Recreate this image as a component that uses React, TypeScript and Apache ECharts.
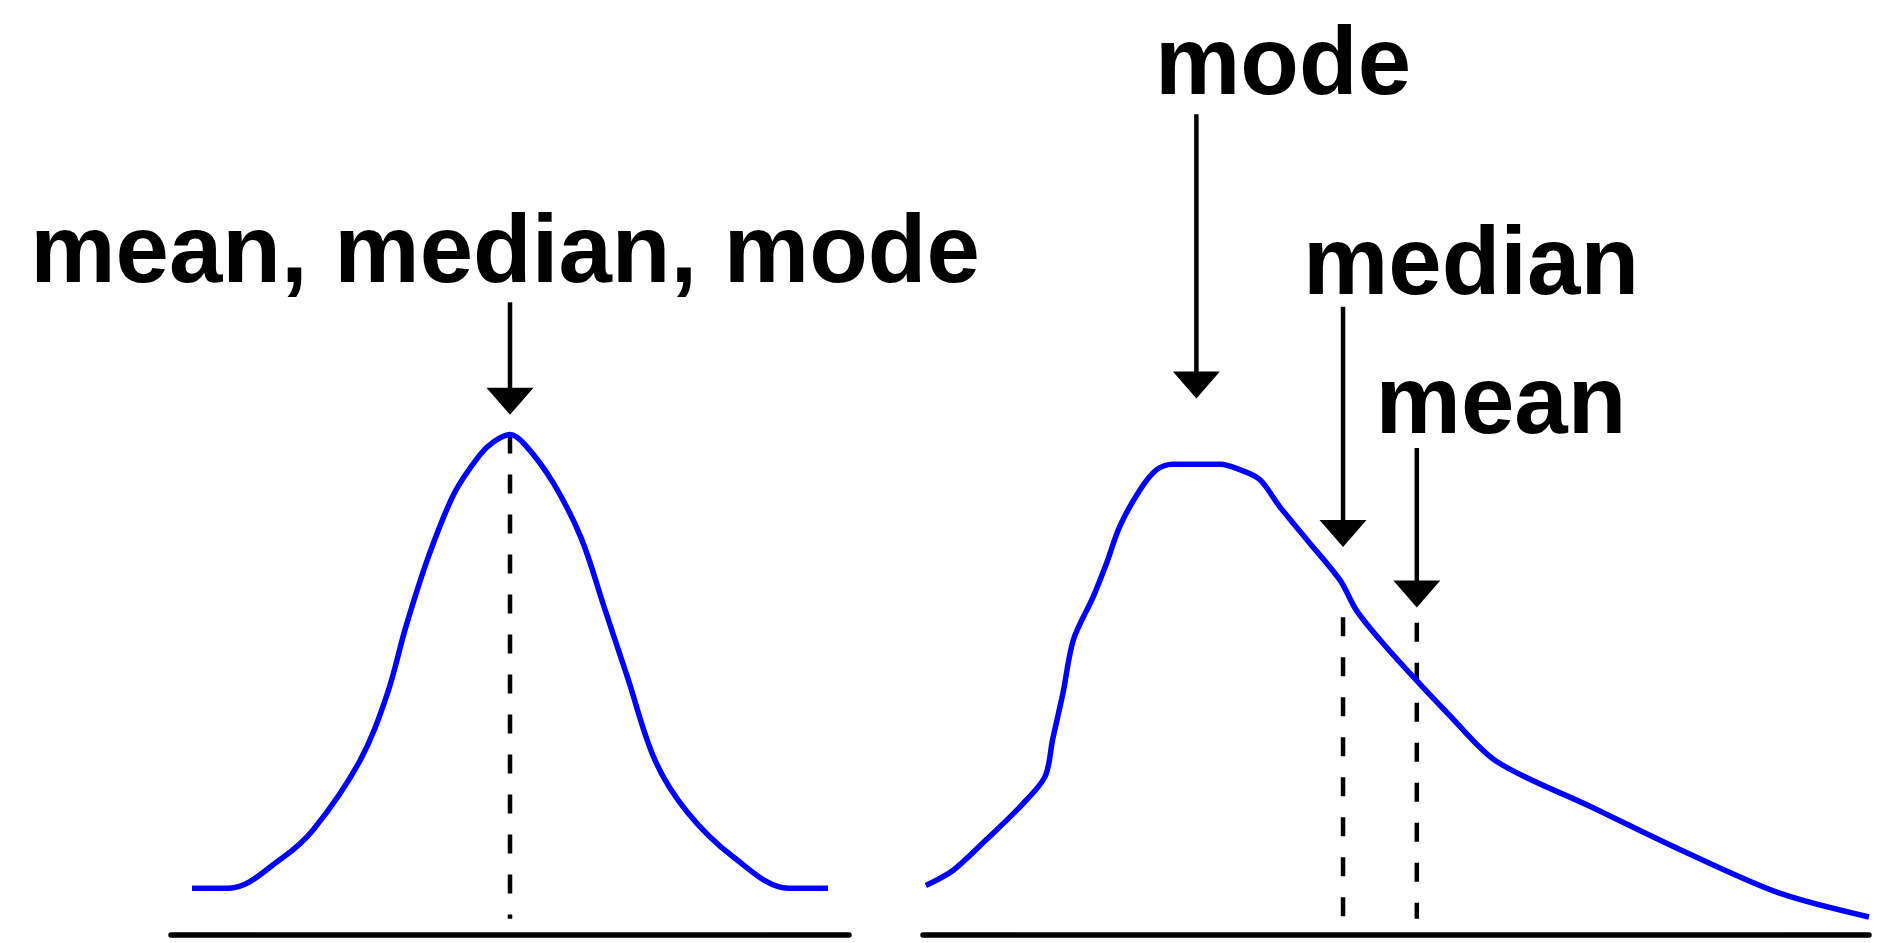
import React, { useEffect, useRef } from "react";
import * as echarts from "echarts";

// ---- data (arbitrary value units: x 0..100 along each baseline, y = density 0..100) ----
const symmetricCurve: [number, number][] = [
  [3.1, 5.2], [8.5, 5.2], [16.3, 8.5], [21.1, 11.8], [27.9, 19.4], [31.9, 26.8],
  [34.7, 34.4], [38.0, 42.1], [41.8, 49.1], [45.5, 53.3], [47.6, 54.8], [50.0, 55.6],
  [52.3, 54.4], [56.4, 50.2], [60.5, 44.1], [63.9, 36.4], [67.3, 28.7], [71.4, 19.4],
  [76.1, 13.7], [82.9, 8.7], [91.1, 5.2], [96.9, 5.2],
];

const skewedCurve: [number, number][] = [
  [0.3, 5.5], [3.2, 7.2], [6.7, 10.6], [10.3, 14.3], [12.9, 17.6], [13.7, 21.7],
  [14.8, 26.9], [15.9, 32.8], [18.0, 37.6], [19.4, 41.3], [20.8, 45.4], [22.9, 49.4],
  [24.7, 51.7], [26.4, 52.3], [31.4, 52.3], [33.5, 51.7], [35.6, 50.6], [37.7, 47.6],
  [40.6, 43.9], [44.1, 39.4], [45.8, 36.1], [48.3, 32.8], [51.8, 28.7], [55.4, 24.7],
  [60.6, 19.3], [70.5, 14.3], [80.4, 9.3], [90.4, 4.7], [100.0, 2.0],
];

// arrows: [x, tailY, tipY]
const symmetricArrows: [number, number, number][] = [[50.0, 70.3, 57.8]];
const skewedArrows: [number, number, number][] = [
  [28.9, 91.2, 59.6], // mode
  [44.4, 69.8, 43.1], // median
  [52.2, 54.1, 36.4], // mean
];

// dashed guides: [x, topY, bottomY]
const symmetricGuides: [number, number, number][] = [[50.0, 55.6, 1.8]];
const skewedGuides: [number, number, number][] = [
  [44.4, 35.3, 1.8],
  [52.2, 34.7, 1.8],
];

const labelsLeft = ["mean, median, mode"];
const labelsRight = ["mode", "median", "mean"];

const HEAD_W = 47;
const HEAD_H = 27;
const FONT = "'Liberation Sans', Arial, sans-serif";

const arrowRender = (params: any, api: any) => {
  const tail = api.coord([api.value(0), api.value(1)]);
  const tip = api.coord([api.value(0), api.value(2)]);
  return {
    type: "group",
    children: [
      {
        type: "line",
        shape: { x1: tail[0], y1: tail[1], x2: tip[0], y2: tip[1] - HEAD_H + 2 },
        style: { stroke: "#000", lineWidth: 4.5 },
      },
      {
        type: "polygon",
        shape: {
          points: [
            [tip[0] - HEAD_W / 2, tip[1] - HEAD_H],
            [tip[0] + HEAD_W / 2, tip[1] - HEAD_H],
            [tip[0], tip[1]],
          ],
        },
        style: { fill: "#000" },
      },
    ],
  };
};

const guideRender = (params: any, api: any) => {
  const top = api.coord([api.value(0), api.value(1)]);
  const bottom = api.coord([api.value(0), api.value(2)]);
  return {
    type: "line",
    shape: { x1: top[0], y1: top[1], x2: bottom[0], y2: bottom[1] },
    style: { stroke: "#000", lineWidth: 4.5, lineDash: [19, 21] },
  };
};

const axisPair = (gridIndex: number) => ({
  x: {
    type: "value",
    gridIndex,
    min: 0,
    max: 100,
    axisLine: { show: true, onZero: false, lineStyle: { color: "#000", width: 5.5 } },
    axisTick: { show: false },
    axisLabel: { show: false },
    splitLine: { show: false },
  },
  y: {
    type: "value",
    gridIndex,
    min: 0,
    max: 100,
    show: false,
  },
});

const textStyle = (text: string) => ({
  text,
  fill: "#000",
  font: `bold 96px ${FONT}`,
  fontFamily: FONT,
  fontWeight: "bold",
  fontSize: 96,
  textAlign: "center",
  textVerticalAlign: "middle",
  align: "center",
  verticalAlign: "middle",
});

export default function App() {
  const ref = useRef<HTMLDivElement>(null);
  useEffect(() => {
    if (!ref.current) return;
    const chart = echarts.init(ref.current, null, { renderer: "svg" });
    const a0 = axisPair(0);
    const a1 = axisPair(1);
    chart.setOption({
      animation: false,
      backgroundColor: "#fff",
      grid: [
        { left: 171, width: 678, top: 35, bottom: 8 },
        { left: 923, width: 946, top: 35, bottom: 8 },
      ],
      xAxis: [a0.x, a1.x],
      yAxis: [a0.y, a1.y],
      series: [
        {
          type: "line",
          xAxisIndex: 0,
          yAxisIndex: 0,
          data: symmetricCurve,
          showSymbol: false,
          smooth: 0.35,
          lineStyle: { color: "#0000ff", width: 5.5 },
          z: 3,
        },
        {
          type: "line",
          xAxisIndex: 1,
          yAxisIndex: 1,
          data: skewedCurve,
          showSymbol: false,
          smooth: 0.3,
          lineStyle: { color: "#0000ff", width: 5.5 },
          z: 3,
        },
        { type: "custom", xAxisIndex: 0, yAxisIndex: 0, data: symmetricGuides, renderItem: guideRender, z: 2 },
        { type: "custom", xAxisIndex: 1, yAxisIndex: 1, data: skewedGuides, renderItem: guideRender, z: 2 },
        { type: "custom", xAxisIndex: 0, yAxisIndex: 0, data: symmetricArrows, renderItem: arrowRender, z: 4 },
        { type: "custom", xAxisIndex: 1, yAxisIndex: 1, data: skewedArrows, renderItem: arrowRender, z: 4 },
      ],
      graphic: [
        { type: "text", x: 505, y: 248, style: textStyle(labelsLeft[0]) },
        { type: "text", x: 1283, y: 60, style: textStyle(labelsRight[0]) },
        { type: "text", x: 1471, y: 260, style: textStyle(labelsRight[1]) },
        { type: "text", x: 1501, y: 399, style: textStyle(labelsRight[2]) },
      ],
    });
    return () => chart.dispose();
  }, []);
  return (
    <div
      ref={ref}
      style={{ position: "absolute", left: 0, top: 0, width: 1885, height: 943, background: "#fff" }}
    />
  );
}
